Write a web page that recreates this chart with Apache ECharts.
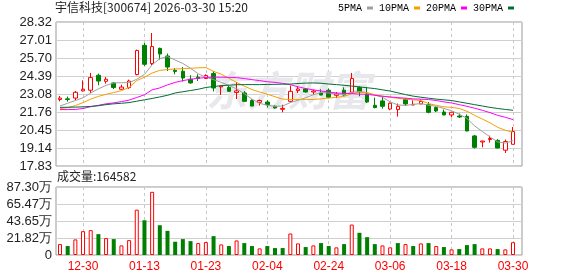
<!DOCTYPE html>
<html>
<head>
    <meta charset='utf-8' />
    <title>宇信科技 K线</title>
    <script src="https://cdn.jsdelivr.net/npm/echarts@6/dist/echarts.min.js"></script>
</head>
<body style='margin:0;background:#fff;'>
<div id='kline' style='width:578px;height:276px;'></div>

<script type='text/javascript'>
    // 日期 (交易日)
    var dates = ['12-25', '12-26', '12-29', '12-30', '12-31', '01-05', '01-06', '01-07', '01-08', '01-09',
        '01-12', '01-13', '01-14', '01-15', '01-16', '01-19', '01-20', '01-21', '01-22', '01-23',
        '01-26', '01-27', '01-28', '01-29', '01-30', '02-02', '02-03', '02-04', '02-05', '02-06',
        '02-09', '02-10', '02-11', '02-12', '02-13', '02-24', '02-25', '02-26', '02-27', '03-02',
        '03-03', '03-04', '03-05', '03-06', '03-09', '03-10', '03-11', '03-12', '03-13', '03-16',
        '03-17', '03-18', '03-19', '03-20', '03-23', '03-24', '03-25', '03-26', '03-27', '03-30'];

    var opens = [22.67, 22.72, 22.78, 23.30, 23.35, 24.44, 24.00, 23.88, 23.42, 23.54,
        24.49, 26.62, 25.29, 26.40, 25.84, 24.80, 24.73, 24.15, 24.30, 24.20,
        24.56, 23.59, 23.56, 23.18, 23.15, 22.60, 22.47, 22.49, 22.18, 21.96,
        22.54, 23.32, 23.44, 23.22, 23.15, 23.35, 22.98, 23.35, 23.20, 23.54,
        23.08, 22.25, 22.57, 21.98, 21.94, 22.69, 22.28, 22.35, 22.30, 22.09,
        21.76, 21.55, 21.47, 21.45, 20.02, 19.58, 19.76, 19.70, 18.98, 19.41];
    var closes = [22.78, 22.67, 23.20, 23.42, 24.27, 24.02, 24.15, 23.55, 23.58, 24.02,
        26.24, 25.24, 26.53, 25.99, 25.04, 24.72, 24.24, 23.88, 24.20, 24.42,
        23.51, 23.66, 23.27, 23.30, 22.54, 22.20, 22.60, 22.30, 22.06, 22.03,
        23.27, 23.44, 23.22, 23.29, 23.00, 22.84, 23.08, 23.00, 24.20, 23.22,
        22.49, 22.09, 22.18, 22.40, 22.18, 22.35, 22.32, 22.54, 21.74, 21.84,
        21.55, 21.74, 21.40, 20.38, 19.19, 19.65, 19.83, 19.14, 19.61, 20.34];
    var lows = [22.54, 22.52, 22.62, 23.25, 23.15, 23.71, 23.83, 23.44, 23.40, 23.44,
        24.44, 25.12, 25.17, 25.58, 24.75, 24.51, 23.98, 23.83, 24.02, 24.17,
        23.27, 23.00, 23.25, 22.71, 22.49, 22.18, 22.23, 22.09, 22.01, 21.74,
        22.45, 23.15, 23.18, 23.03, 22.98, 22.76, 22.78, 22.96, 23.15, 22.91,
        22.42, 22.03, 22.01, 21.89, 21.43, 22.23, 22.25, 22.33, 21.67, 21.76,
        21.52, 21.38, 21.33, 20.36, 19.10, 19.19, 19.54, 19.12, 18.78, 19.41];
    var highs = [22.93, 22.89, 23.30, 24.07, 24.61, 24.56, 24.31, 23.93, 23.76, 24.12,
        26.31, 26.79, 27.52, 26.45, 26.02, 24.97, 25.04, 24.44, 24.51, 24.51,
        24.75, 23.68, 23.71, 23.95, 23.29, 22.69, 22.67, 22.62, 22.25, 22.30,
        23.69, 23.64, 23.51, 23.39, 23.42, 23.47, 23.22, 23.56, 24.61, 23.64,
        23.59, 22.81, 22.91, 22.45, 22.38, 22.78, 22.62, 22.69, 22.49, 22.18,
        21.94, 21.79, 21.65, 21.58, 20.09, 19.67, 20.04, 19.78, 19.76, 20.67];

    var ma5 = [22.20, 22.40, 22.60, 22.80, 23.15, 23.45, 23.70, 23.88, 23.90, 23.90,
        24.15, 24.50, 25.20, 25.65, 25.80, 25.55, 25.30, 24.95, 24.55, 24.30,
        24.12, 23.92, 23.70, 23.45, 23.10, 22.70, 22.40, 22.25, 22.18, 22.20,
        22.45, 22.62, 22.80, 23.02, 23.18, 23.15, 23.08, 23.04, 23.20, 23.25,
        23.18, 23.00, 22.84, 22.50, 22.28, 22.24, 22.32, 22.38, 22.26, 22.18,
        22.02, 21.86, 21.60, 21.30, 20.75, 20.35, 19.95, 19.58, 19.50, 19.68];
    var ma10 = [22.01, 22.08, 22.23, 22.45, 22.70, 22.90, 23.05, 23.18, 23.32, 23.55,
        24.05, 24.30, 24.60, 24.80, 24.85, 24.90, 24.92, 24.95, 24.98, 25.00,
        24.72, 24.52, 24.22, 23.92, 23.65, 23.40, 23.22, 23.06, 22.88, 22.70,
        22.68, 22.68, 22.68, 22.68, 22.72, 22.78, 22.83, 22.90, 23.10, 23.22,
        23.15, 23.02, 22.92, 22.84, 22.76, 22.70, 22.65, 22.60, 22.38, 22.25,
        22.14, 22.10, 22.02, 21.82, 21.52, 21.25, 20.98, 20.65, 20.43, 20.30];
    var ma20 = [21.94, 21.94, 21.95, 22.02, 22.15, 22.25, 22.36, 22.43, 22.52, 22.63,
        22.82, 23.02, 23.38, 23.52, 23.74, 23.92, 24.05, 24.15, 24.22, 24.28,
        24.30, 24.30, 24.29, 24.27, 24.20, 24.12, 24.05, 23.97, 23.92, 23.85,
        23.75, 23.60, 23.47, 23.38, 23.29, 23.22, 23.15, 23.12, 23.10, 23.07,
        23.05, 22.98, 22.91, 22.86, 22.81, 22.77, 22.72, 22.70, 22.67, 22.60,
        22.50, 22.42, 22.30, 22.18, 22.04, 21.89, 21.72, 21.52, 21.38, 21.21];
    var ma30 = [22.10, 22.11, 22.12, 22.14, 22.17, 22.22, 22.30, 22.36, 22.40, 22.45,
        22.55, 22.65, 22.75, 22.86, 22.98, 23.15, 23.24, 23.33, 23.42, 23.55,
        23.62, 23.68, 23.72, 23.75, 23.76, 23.76, 23.76, 23.77, 23.78, 23.79,
        23.80, 23.84, 23.87, 23.88, 23.86, 23.80, 23.76, 23.71, 23.65, 23.59,
        23.53, 23.47, 23.38, 23.29, 23.16, 23.03, 22.92, 22.84, 22.77, 22.70,
        22.65, 22.60, 22.50, 22.40, 22.30, 22.20, 22.10, 22.02, 21.95, 21.89];

    // 成交量
    var vols = [140000, 115000, 200000, 306000, 319000, 268000, 217000, 204000, 123000, 191000,
        582000, 446000, 811000, 382000, 310000, 170000, 204000, 178000, 153000, 166000,
        242000, 136000, 115000, 187000, 153000, 115000, 85000, 115000, 89000, 89000,
        276000, 149000, 102000, 123000, 153000, 115000, 98000, 140000, 391000, 285000,
        229000, 140000, 123000, 98000, 153000, 140000, 115000, 149000, 153000, 115000,
        102000, 72000, 76000, 127000, 140000, 85000, 85000, 76000, 72000, 164582];

    // 坐标刻度
    var priceMin = 17.83, priceMax = 28.32, priceStep = 1.31125;
    var volMax = 873000, volStep = 218250;
    var maNames = ['5PMA', '10PMA', '20PMA', '30PMA'];

    var RED = '#ff0000', GREEN = '#008000';

    var candle = dates.map(function (d, i) {
        return [opens[i], closes[i], lows[i], highs[i]];
    });
    var volData = vols.map(function (v, i) {
        var up = i === 0 ? closes[i] >= opens[i] : closes[i] >= closes[i - 1];
        return {
            value: v,
            itemStyle: up ? {color: '#fff', borderColor: RED, borderWidth: 1} : {color: GREEN}
        };
    });

    var labelEvery8 = function (index) {
        return (index - 3) % 8 === 0;
    };

    var frameLeft = 56, frameWidth = 466;
    var dataLeft = 60, dataWidth = 453;
    var priceTop = 22, priceHeight = 144;
    var volTop = 187, volHeight = 68;

    var chart = echarts.init(document.getElementById('kline'));

    var option = {
        animation: false,
        backgroundColor: '#fff',
        title: [
            {
                text: '宇信科技[300674] 2026-03-30 15:20',
                left: 55, top: 1, padding: 0,
                textStyle: {fontSize: 12, fontWeight: 'normal', color: '#222', fontFamily: 'Noto Sans CJK SC'}
            },
            {
                text: '成交量:' + vols[vols.length - 1],
                left: 57, top: 170, padding: 0,
                textStyle: {fontSize: 12, fontWeight: 'normal', color: '#222', fontFamily: 'Noto Sans CJK SC'}
            }
        ],
        legend: {
            data: maNames,
            left: 338, top: 3, padding: 0,
            align: 'right',
            icon: 'rect',
            itemWidth: 6, itemHeight: 3, itemGap: 6,
            selectedMode: false,
            textStyle: {fontSize: 10, color: '#000', fontFamily: 'Liberation Mono'}
        },
        graphic: [
            {
                type: 'text', left: 206, top: 70, z: 1, silent: true,
                style: {
                    text: '东方财富', fontSize: 41, fontWeight: 'bold', fontStyle: 'italic',
                    fontFamily: 'Noto Sans CJK SC', fill: '#e8e8ec'
                }
            }
        ],
        grid: [
            {left: frameLeft, top: priceTop, width: frameWidth, height: priceHeight, show: true, borderColor: '#999', borderWidth: 1},
            {left: dataLeft, top: priceTop, width: dataWidth, height: priceHeight},
            {left: frameLeft, top: volTop, width: frameWidth, height: volHeight, show: true, borderColor: '#999', borderWidth: 1},
            {left: dataLeft, top: volTop, width: dataWidth, height: volHeight}
        ],
        xAxis: [
            {type: 'value', gridIndex: 0, min: 0, max: 1, show: false},
            {
                type: 'category', gridIndex: 1, data: dates, boundaryGap: false,
                axisLine: {show: false}, axisTick: {show: false}, axisLabel: {show: false},
                splitLine: {show: true, interval: labelEvery8, lineStyle: {color: '#c8c8c8', type: [3, 3]}}
            },
            {type: 'value', gridIndex: 2, min: 0, max: 1, show: false},
            {
                type: 'category', gridIndex: 3, data: dates, boundaryGap: false,
                axisLine: {show: false}, axisTick: {show: false},
                axisLabel: {interval: labelEvery8, color: RED, fontSize: 12, margin: 6, fontFamily: 'Liberation Sans'},
                splitLine: {show: true, interval: labelEvery8, lineStyle: {color: '#c8c8c8', type: [3, 3]}}
            }
        ],
        yAxis: [
            {
                type: 'value', gridIndex: 0, min: priceMin, max: priceMax, interval: priceStep,
                axisLine: {show: false}, axisTick: {show: false},
                axisLabel: {
                    color: '#222', fontSize: 13, margin: 4, fontFamily: 'Liberation Sans',
                    formatter: function (v) { return (Math.round(v * 100 + 1e-6) / 100).toFixed(2); }
                },
                splitLine: {lineStyle: {color: '#d0d0d0'}}
            },
            {type: 'value', gridIndex: 1, min: priceMin, max: priceMax, show: false},
            {
                type: 'value', gridIndex: 2, min: 0, max: volMax, interval: volStep,
                axisLine: {show: false}, axisTick: {show: false},
                axisLabel: {
                    color: '#222', fontSize: 13, margin: 4, fontFamily: 'Liberation Sans',
                    formatter: function (v) {
                        if (v === 0) return '0';
                        return (Math.floor(v / 100 + 1e-6) / 100).toFixed(2) + '万';
                    }
                },
                splitLine: {lineStyle: {color: '#d0d0d0'}}
            },
            {type: 'value', gridIndex: 3, min: 0, max: volMax, show: false}
        ],
        series: [
            {
                name: 'K', type: 'candlestick', xAxisIndex: 1, yAxisIndex: 1,
                data: candle, barWidth: 4, clip: false,
                itemStyle: {color: '#fff', color0: GREEN, borderColor: RED, borderColor0: GREEN, borderWidth: 1}
            },
            {name: maNames[0], type: 'line', xAxisIndex: 1, yAxisIndex: 1, data: ma5, symbol: 'none', z: 3,
                color: '#a0a0a0', lineStyle: {width: 1, color: '#a0a0a0'}},
            {name: maNames[1], type: 'line', xAxisIndex: 1, yAxisIndex: 1, data: ma10, symbol: 'none', z: 3,
                color: '#f5a000', lineStyle: {width: 1, color: '#f5a000'}},
            {name: maNames[2], type: 'line', xAxisIndex: 1, yAxisIndex: 1, data: ma20, symbol: 'none', z: 3,
                color: '#ff00ff', lineStyle: {width: 1, color: '#ff00ff'}},
            {name: maNames[3], type: 'line', xAxisIndex: 1, yAxisIndex: 1, data: ma30, symbol: 'none', z: 3,
                color: '#006e33', lineStyle: {width: 1, color: '#006e33'}},
            {
                name: '成交量', type: 'bar', xAxisIndex: 3, yAxisIndex: 3,
                data: volData, barWidth: 4, clip: false
            }
        ]
    };

    chart.setOption(option);
</script>
</body>
</html>
